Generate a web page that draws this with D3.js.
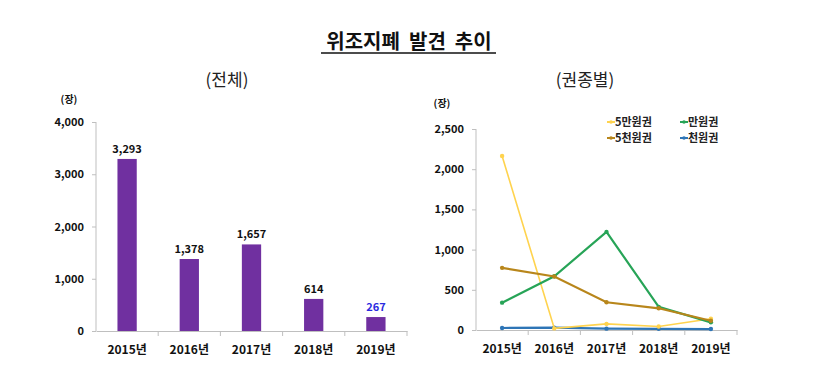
<!DOCTYPE html>
<html>
<head>
<meta charset="utf-8">
<script src="https://cdn.jsdelivr.net/npm/d3@7"></script>
<style>
  body { margin: 0; background: #fff; }
  svg text { font-family: "Noto Sans CJK KR", "Noto Sans", sans-serif; }
</style>
</head>
<body>
<div id="wrapper"></div>
<script>
// DATA
const YEARS = [`2015년`, `2016년`, `2017년`, `2018년`, `2019년`];
const TOTAL = [3293, 1378, 1657, 614, 267];
const TOTAL_TICKS = [0, 1000, 2000, 3000, 4000];

const SERIES_NAMES = [`5만원권`, `만원권`, `5천원권`, `천원권`];
const W50000 = [2165, 20, 76, 44, 140];
const W10000 = [340, 668, 1220, 288, 95];
const W5000 = [773, 666, 345, 270, 115];
const W1000 = [25, 30, 17, 15, 12];
const TYPE_TICKS = [0, 500, 1000, 1500, 2000, 2500];

const COLORS = [`#FFD34E`, `#27A457`, `#B8861B`, `#2E75B6`];
const seriesValues = [W50000, W10000, W5000, W1000];

// SETUP
const W = 820, H = 389;
const fmt = d3.format(`,`);
const AXIS_COLOR = `#bfbfbf`;

const svg = d3.select(`#wrapper`)
  .append(`svg`)
  .attr(`width`, W)
  .attr(`height`, H);

// TITLES
svg.append(`text`)
  .attr(`x`, 409)
  .attr(`y`, 49)
  .attr(`text-anchor`, `middle`)
  .attr(`font-size`, 20)
  .attr(`font-weight`, `bold`)
  .attr(`fill`, `#111`)
  .attr(`xml:space`, `preserve`)
  .style(`white-space`, `pre`)
  .text(`위조지폐  발견  추이`);

svg.append(`line`)
  .attr(`x1`, 321).attr(`x2`, 496)
  .attr(`y1`, 53).attr(`y2`, 53)
  .attr(`stroke`, `#111`)
  .attr(`stroke-width`, 1.5);

svg.append(`text`)
  .attr(`x`, 227).attr(`y`, 86)
  .attr(`text-anchor`, `middle`)
  .attr(`font-size`, 17)
  .attr(`fill`, `#222`)
  .text(`(전체)`);

svg.append(`text`)
  .attr(`x`, 585).attr(`y`, 86)
  .attr(`text-anchor`, `middle`)
  .attr(`font-size`, 17)
  .attr(`fill`, `#222`)
  .text(`(권종별)`);

// AXIS HELPERS
const drawYAxis = (g, scale, ticks) => {
  g.call(d3.axisLeft(scale).tickValues(ticks).tickSize(4).tickPadding(8).tickFormat(fmt));
  g.select(`.domain`).attr(`stroke`, AXIS_COLOR).attr(`d`, `M0,${scale.range()[0]}V${scale.range()[1]}`);
  g.selectAll(`.tick line`).attr(`stroke`, AXIS_COLOR);
  g.selectAll(`.tick text`)
    .attr(`font-size`, 11)
    .attr(`font-weight`, `bold`)
    .attr(`fill`, `#111`)
    .style(`font-family`, `"Noto Sans CJK KR", sans-serif`);
};

const drawXAxis = (g, scale) => {
  g.call(d3.axisBottom(scale).tickSize(0).tickPadding(14));
  g.select(`.domain`).attr(`stroke`, AXIS_COLOR);
  g.selectAll(`.tick text`)
    .attr(`font-size`, 12)
    .attr(`font-weight`, `bold`)
    .attr(`fill`, `#111`)
    .style(`font-family`, `"Noto Sans CJK KR", sans-serif`);
  // tick marks between categories
  const step = scale.step();
  const [x0] = scale.range();
  g.selectAll(`.sep`)
    .data(d3.range(1, scale.domain().length + 1))
    .join(`line`)
    .attr(`class`, `sep`)
    .attr(`x1`, i => x0 + i * step)
    .attr(`x2`, i => x0 + i * step)
    .attr(`y1`, 0).attr(`y2`, 5)
    .attr(`stroke`, AXIS_COLOR);
};

// LEFT CHART (전체)
const xLeft = d3.scaleBand().domain(YEARS).range([96, 407]);
const yLeft = d3.scaleLinear().domain([0, 4000]).range([331, 122]);

svg.append(`text`)
  .attr(`x`, 69).attr(`y`, 103)
  .attr(`text-anchor`, `middle`)
  .attr(`font-size`, 10)
  .attr(`font-weight`, `bold`)
  .attr(`fill`, `#111`)
  .text(`(장)`);

svg.append(`g`)
  .attr(`transform`, `translate(96,0)`)
  .call(g => drawYAxis(g, yLeft, TOTAL_TICKS));

const barWidth = xLeft.bandwidth() * 0.31;

svg.append(`g`)
  .selectAll(`rect`)
  .data(TOTAL)
  .join(`rect`)
  .attr(`x`, (d, i) => xLeft(YEARS[i]) + xLeft.bandwidth() / 2 - barWidth / 2)
  .attr(`y`, d => yLeft(d))
  .attr(`width`, barWidth)
  .attr(`height`, d => yLeft(0) - yLeft(d))
  .attr(`fill`, `#7030A0`);

svg.append(`g`)
  .selectAll(`text`)
  .data(TOTAL)
  .join(`text`)
  .attr(`x`, (d, i) => xLeft(YEARS[i]) + xLeft.bandwidth() / 2)
  .attr(`y`, d => yLeft(d) - 6)
  .attr(`text-anchor`, `middle`)
  .attr(`font-size`, 11)
  .attr(`font-weight`, `bold`)
  .attr(`fill`, (d, i) => i === TOTAL.length - 1 ? `#2B2BE0` : `#111`)
  .text(d => fmt(d));

svg.append(`g`)
  .attr(`transform`, `translate(0,331)`)
  .call(g => drawXAxis(g, xLeft));

// RIGHT CHART (권종별)
const xRight = d3.scaleBand().domain(YEARS).range([476, 737]);
const yRight = d3.scaleLinear().domain([0, 2500]).range([330, 129]);

svg.append(`text`)
  .attr(`x`, 442).attr(`y`, 107)
  .attr(`text-anchor`, `middle`)
  .attr(`font-size`, 10)
  .attr(`font-weight`, `bold`)
  .attr(`fill`, `#111`)
  .text(`(장)`);

svg.append(`g`)
  .attr(`transform`, `translate(476,0)`)
  .call(g => drawYAxis(g, yRight, TYPE_TICKS));

svg.append(`g`)
  .attr(`transform`, `translate(0,330)`)
  .call(g => drawXAxis(g, xRight));

const cx = i => xRight(YEARS[i]) + xRight.bandwidth() / 2;
const line = d3.line()
  .x((d, i) => cx(i))
  .y(d => yRight(d));

// draw order: 5만원권 last-ish like the original (yellow sits under others at the bottom)
const order = [3, 0, 1, 2];
order.forEach(k => {
  const g = svg.append(`g`);
  g.append(`path`)
    .datum(seriesValues[k])
    .attr(`d`, line)
    .attr(`fill`, `none`)
    .attr(`stroke`, COLORS[k])
    .attr(`stroke-width`, k === 0 ? 1.6 : 2.2);
  g.selectAll(`circle`)
    .data(seriesValues[k])
    .join(`circle`)
    .attr(`cx`, (d, i) => cx(i))
    .attr(`cy`, d => yRight(d))
    .attr(`r`, 2.2)
    .attr(`fill`, COLORS[k]);
});

// LEGEND
const legendPos = [[607, 122], [680, 122], [607, 138], [680, 138]];
SERIES_NAMES.forEach((name, k) => {
  const [lx, ly] = legendPos[k];
  const g = svg.append(`g`).attr(`transform`, `translate(${lx},${ly})`);
  g.append(`line`)
    .attr(`x1`, 0).attr(`x2`, 8)
    .attr(`stroke`, COLORS[k])
    .attr(`stroke-width`, 2);
  g.append(`circle`).attr(`cx`, 4).attr(`r`, 1.8).attr(`fill`, COLORS[k]);
  g.append(`text`)
    .attr(`x`, 8).attr(`y`, 4)
    .attr(`font-size`, 11)
    .attr(`font-weight`, `bold`)
    .attr(`fill`, `#222`)
    .text(name);
});
</script>
</body>
</html>
